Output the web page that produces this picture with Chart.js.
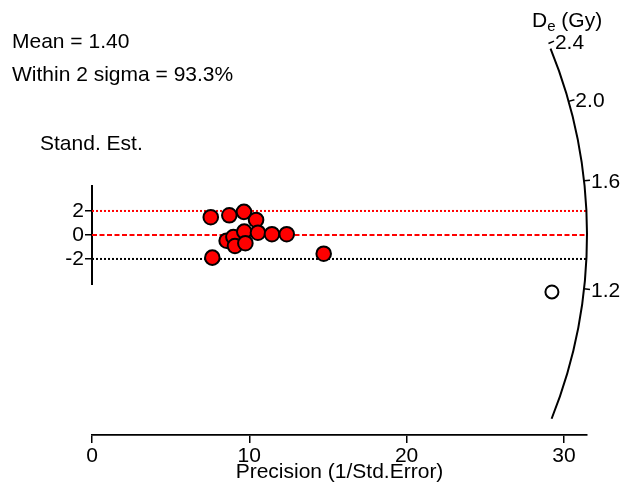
<!DOCTYPE html>
<html>
<head>
<meta charset="utf-8">
<script src="https://cdn.jsdelivr.net/npm/chart.js@4"></script>
<style>
  html, body { margin: 0; padding: 0; background: #fff; }
</style>
</head>
<body>
<canvas id="radial" width="625" height="488"></canvas>
<script>
// precision (1/std.error) and standardised estimate of each aliquot
var precision = [7.55, 8.73, 9.66, 10.43, 8.56, 8.99, 9.09, 9.68, 9.75, 10.55, 11.44, 12.38, 7.65, 14.73];
var standEst  = [1.48, 1.64, 1.92, 1.25, -0.48, -0.17, -0.92, 0.28, -0.69, 0.19, 0.06, 0.06, -1.89, -1.56];
// aliquot drawn as an open circle
var openPrecision = [29.24];
var openStandEst  = [-4.75];

var xTicks = [0, 10, 20, 30];
var yTicks = [-2, 0, 2];
var deTicks = [1.2, 1.6, 2.0, 2.4];   // De (Gy) ticks on the radial axis
var deArcRange = [0.82, 2.36];
var centralDe = 1.385;
var xMax = 31.47;
var yRange = [-16.67, 18.33];
var seAxisRange = [-4.17, 4.17];

var FONT = '"Liberation Sans", Arial, sans-serif';
var font21 = { family: FONT, size: 21 };

function hline(v) {
  return [{ x: 0, y: v }, { x: xMax, y: v }];
}

// radial De axis, plus the text in the corners
var radialAxis = {
  id: 'radialAxis',
  afterDraw: function(chart) {
    var ctx = chart.ctx;
    var xs = chart.scales.x, ys = chart.scales.y;
    var ox = xs.getPixelForValue(0), oy = ys.getPixelForValue(0);
    var r = xs.getPixelForValue(xMax) - ox;
    var z0 = Math.log(centralDe);
    function angleOf(de) {
      var dx = xs.getPixelForValue(1) - ox;
      var dy = ys.getPixelForValue(Math.log(de) - z0) - oy;
      return Math.atan2(dy, dx);
    }
    ctx.save();
    ctx.strokeStyle = '#000';
    ctx.lineWidth = 2;
    ctx.beginPath();
    ctx.arc(ox, oy, r, angleOf(deArcRange[1]), angleOf(deArcRange[0]));
    ctx.stroke();

    ctx.lineWidth = 1.5;
    ctx.fillStyle = '#000';
    ctx.font = '21px ' + FONT;
    ctx.textAlign = 'left';
    ctx.textBaseline = 'middle';
    deTicks.forEach(function(de) {
      var a = angleOf(de);
      var c = Math.cos(a), s = Math.sin(a);
      ctx.beginPath();
      ctx.moveTo(ox + r * c, oy + r * s);
      ctx.lineTo(ox + (r + 6) * c, oy + (r + 6) * s);
      ctx.stroke();
      ctx.fillText(de.toFixed(1), ox + (r + 7) * c, oy + (r + 7) * s + 2);
    });

    ctx.textBaseline = 'alphabetic';
    ctx.fillText('Mean = 1.40', 12, 48);
    ctx.fillText('Within 2 sigma = 93.3%', 12, 81);
    ctx.fillText('Stand. Est.', 40, 150);

    ctx.font = '21px ' + FONT;
    ctx.fillText('D', 532, 27);
    var w = ctx.measureText('D').width;
    ctx.font = '15px ' + FONT;
    ctx.fillText('e', 532 + w, 31);
    var w2 = ctx.measureText('e').width;
    ctx.font = '21px ' + FONT;
    ctx.fillText(' (Gy)', 532 + w + w2, 27);
    ctx.restore();
  }
};

new Chart(document.getElementById('radial').getContext('2d'), {
  type: 'scatter',
  data: {
    datasets: [{
      label: 'aliquots',
      data: precision.map(function(p, i) { return { x: p, y: standEst[i] }; }),
      backgroundColor: '#ff0000',
      borderColor: '#000',
      borderWidth: 2,
      pointRadius: 7.3,
      pointHoverRadius: 7.3
    }, {
      label: 'open',
      data: openPrecision.map(function(p, i) { return { x: p, y: openStandEst[i] }; }),
      backgroundColor: '#fff',
      borderColor: '#000',
      borderWidth: 2,
      pointRadius: 6.5,
      pointHoverRadius: 6.5
    }, {
      label: '+2',
      type: 'line',
      data: hline(2),
      borderColor: '#ff0000',
      borderWidth: 2,
      borderDash: [2, 2],
      pointRadius: 0
    }, {
      label: 'zero',
      type: 'line',
      data: hline(0),
      borderColor: '#ff0000',
      borderWidth: 2,
      borderDash: [5, 2.5],
      pointRadius: 0
    }, {
      label: '-2',
      type: 'line',
      data: hline(-2),
      borderColor: '#000',
      borderWidth: 2,
      borderDash: [2, 2],
      pointRadius: 0
    }, {
      label: 'se axis',
      type: 'line',
      data: [{ x: 0, y: seAxisRange[0] }, { x: 0, y: seAxisRange[1] }],
      borderColor: '#000',
      borderWidth: 2,
      pointRadius: 0,
      clip: false
    }]
  },
  options: {
    responsive: false,
    animation: false,
    layout: { padding: { top: 15, right: 38, left: 0, bottom: 0 } },
    plugins: {
      legend: { display: false },
      tooltip: { enabled: false }
    },
    scales: {
      x: {
        type: 'linear',
        position: 'bottom',
        min: 0,
        max: xMax,
        afterBuildTicks: function(s) { s.ticks = xTicks.map(function(v) { return { value: v }; }); },
        afterFit: function(s) { s.height = 53; },
        ticks: { font: font21, color: '#000', padding: 1, maxRotation: 0, autoSkip: false },
        grid: { drawOnChartArea: false, drawTicks: true, tickLength: 8, color: '#000', lineWidth: 1.5 },
        border: { display: true, color: '#000', width: 1.8 },
        title: { display: true, text: 'Precision (1/Std.Error)', font: font21, color: '#000', padding: { top: 0, bottom: 3 } }
      },
      y: {
        type: 'linear',
        position: 'left',
        min: yRange[0],
        max: yRange[1],
        afterBuildTicks: function(s) { s.ticks = yTicks.map(function(v) { return { value: v }; }); },
        afterFit: function(s) { s.width = 92; },
        ticks: { font: font21, color: '#000', padding: 1 },
        grid: { drawOnChartArea: false, drawTicks: true, tickLength: 7, color: '#000', lineWidth: 1.5 },
        border: { display: false }
      }
    }
  },
  plugins: [radialAxis]
});
</script>
</body>
</html>
